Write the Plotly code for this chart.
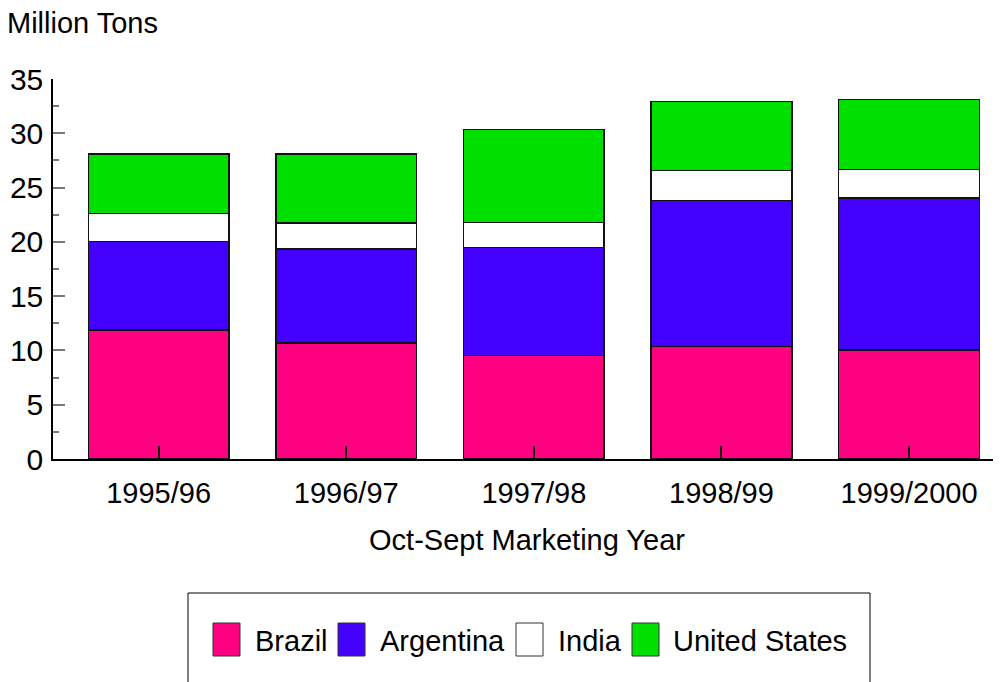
import plotly.graph_objects as go

years = ["1995/96", "1996/97", "1997/98", "1998/99", "1999/2000"]
brazil = [11.9, 10.7, 9.55, 10.35, 10.05]
argentina = [8.15, 8.65, 9.95, 13.45, 14.0]
india = [2.55, 2.4, 2.3, 2.75, 2.6]
united_states = [5.5, 6.35, 8.55, 6.4, 6.45]

series_names = ["Brazil", "Argentina", "India", "United States"]
series_values = [brazil, argentina, india, united_states]
series_colors = ["#FF0080", "#4400FF", "#FFFFFF", "#00E000"]

FONT = "Liberation Sans"
FS = 29

# page body offset (browser default margin) compensation
OFF = 8
W, H = 1001 - OFF, 682 - OFF
L, R, T, B = 53 - OFF, 0, 79 - OFF, 682 - 459
pw = W - L - R
ph = H - T - B


def px(x):
    """reference-screen x -> paper x"""
    return (x - OFF - L) / pw


def py(y):
    """reference-screen y -> paper y"""
    return (H - B - (y - OFF)) / ph


fig = go.Figure()
for name, vals, col in zip(series_names, series_values, series_colors):
    fig.add_trace(go.Bar(
        x=list(range(len(years))), y=vals, name=name,
        marker=dict(color=col, line=dict(color="#111111", width=1.5)),
        width=0.75, showlegend=False,
    ))

# manual legend (swatches + labels) inside a framed box
legend_swatch_x = [213, 338, 516, 632]
legend_text_x = [253, 378, 556, 671]
shapes = [dict(
    type="rect", xref="paper", yref="paper",
    x0=px(188), x1=px(870), y0=py(700), y1=py(593),
    line=dict(color="#000000", width=1), fillcolor="rgba(0,0,0,0)",
)]
annotations = [dict(
    text="Million Tons", xref="paper", yref="paper",
    x=px(5), y=py(23), xanchor="left", yanchor="middle",
    showarrow=False, font=dict(family=FONT, size=FS, color="#000000"),
)]
for name, col, sx, tx in zip(series_names, series_colors, legend_swatch_x, legend_text_x):
    shapes.append(dict(
        type="rect", xref="paper", yref="paper",
        x0=px(sx), x1=px(sx + 27), y0=py(656), y1=py(623),
        line=dict(color="#333333", width=1), fillcolor=col,
    ))
    annotations.append(dict(
        text=name, xref="paper", yref="paper",
        x=px(tx), y=py(641), xanchor="left", yanchor="middle",
        showarrow=False, font=dict(family=FONT, size=FS, color="#000000"),
    ))

fig.update_layout(
    barmode="stack",
    width=W, height=H,
    margin=dict(l=L, r=R, t=T, b=B, autoexpand=False),
    paper_bgcolor="white", plot_bgcolor="white",
    font=dict(family=FONT, size=FS, color="#000000"),
    showlegend=False,
    xaxis=dict(
        range=[-0.563, 4.49],
        tickmode="array", tickvals=list(range(len(years))), ticktext=years,
        ticks="inside", ticklen=13, tickwidth=1.5, tickcolor="#111111",
        showline=True, linecolor="#000000", linewidth=1.5,
        showgrid=False, zeroline=False,
        tickfont=dict(family=FONT, size=FS),
        ticklabelstandoff=7,
        title=dict(text="Oct-Sept Marketing Year", font=dict(family=FONT, size=FS), standoff=22),
    ),
    yaxis=dict(
        range=[0, 35], dtick=5,
        ticks="inside", ticklen=12, tickwidth=1.5, tickcolor="#777777",
        minor=dict(ticks="inside", ticklen=6, dtick=2.5, tickcolor="#777777", tickwidth=1.5),
        showline=True, linecolor="#000000", linewidth=1.5,
        showgrid=False, zeroline=False,
        tickfont=dict(family=FONT, size=30),
        ticklabelstandoff=2,
    ),
    annotations=annotations,
    shapes=shapes,
)

fig.write_html("out.html")
